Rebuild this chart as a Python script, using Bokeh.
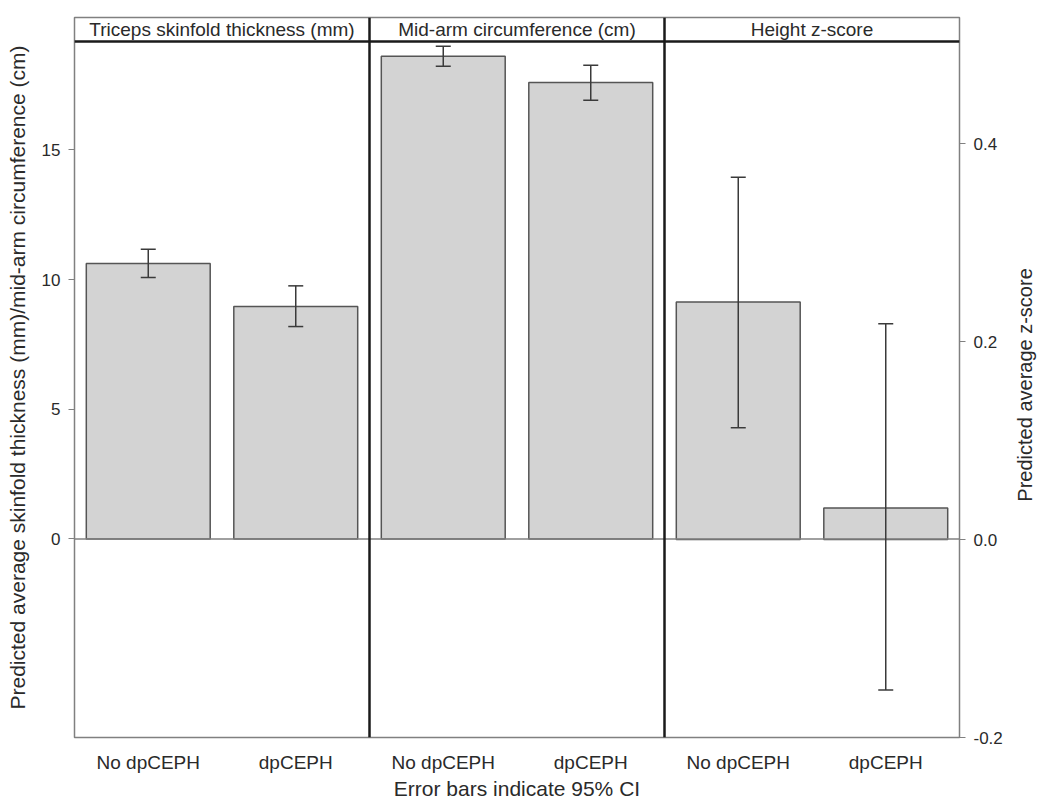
import math
from bokeh.plotting import figure
from bokeh.layouts import row
from bokeh.core.properties import value
from bokeh.models import (Range1d, LinearAxis, FixedTicker, NumeralTickFormatter,
                          ColumnDataSource, Whisker, TeeHead, Span, Label)
from bokeh.embed import file_html
from bokeh.resources import INLINE

# ---- data ----
panels = ["Triceps skinfold thickness (mm)", "Mid-arm circumference (cm)", "Height z-score"]
groups = ["No dpCEPH", "dpCEPH"]

triceps_mean = [10.62, 8.96]
triceps_lower = [10.08, 8.19]
triceps_upper = [11.17, 9.76]

midarm_mean = [18.62, 17.60]
midarm_lower = [18.23, 16.92]
midarm_upper = [19.00, 18.27]

height_mean = [0.240, 0.032]
height_lower = [0.113, -0.152]
height_upper = [0.366, 0.218]

left_ticks = [0, 5, 10, 15]
right_ticks = [-0.2, 0.0, 0.2, 0.4]

FONT = "Liberation Sans"
TXT = "#2a2a2a"
GREY = "#808080"

LEFT_RANGE = (-7.66, 20.11)
RIGHT_RANGE = (-0.2, 0.5275)
STRIP_BOTTOM = 19.18

p = figure(frame_width=885, frame_height=720, output_backend="svg", toolbar_location=None,
           x_range=Range1d(0, 6), y_range=Range1d(*LEFT_RANGE),
           min_border_left=74, min_border_top=17, min_border_right=46, min_border_bottom=55,
           y_axis_location="left")
p.extra_y_ranges = {"z": Range1d(*RIGHT_RANGE)}
p.xgrid.visible = False
p.ygrid.visible = False
p.outline_line_color = GREY
p.outline_line_width = 1.5
p.background_fill_color = "white"
p.border_fill_color = "white"

def pos(panel_idx, grp_idx):
    return panel_idx * len(groups) + grp_idx + 0.5

def whisker(src, **kw):
    return Whisker(base="x", lower="lower", upper="upper", source=src, level="overlay",
                   line_color="#3a3a3a", line_width=1.5,
                   upper_head=TeeHead(size=15, line_color="#3a3a3a", line_width=1.5),
                   lower_head=TeeHead(size=15, line_color="#3a3a3a", line_width=1.5), **kw)

# bars + whiskers for the two left-scale panels
for pi, (m, lo, hi) in enumerate([(triceps_mean, triceps_lower, triceps_upper),
                                   (midarm_mean, midarm_lower, midarm_upper)]):
    src = ColumnDataSource(dict(x=[pos(pi, g) for g in range(len(groups))], top=m, lower=lo, upper=hi))
    p.vbar(x="x", top="top", bottom=0, width=0.84, source=src,
           fill_color="#d3d3d3", line_color="#555555", line_width=1.5)
    p.add_layout(whisker(src))

# height z-score panel on right scale
hsrc = ColumnDataSource(dict(x=[pos(2, g) for g in range(len(groups))], top=height_mean,
                             lower=height_lower, upper=height_upper))
p.vbar(x="x", top="top", bottom=0, width=0.84, source=hsrc, y_range_name="z",
       fill_color="#d3d3d3", line_color="#555555", line_width=1.5)
p.add_layout(whisker(hsrc, y_range_name="z"))

# zero line
p.add_layout(Span(location=0, dimension="width", line_color=GREY, line_width=1.5))
# strip bottom line
p.add_layout(Span(location=STRIP_BOTTOM, dimension="width", line_color="#1a1a1a", line_width=2.5))
# panel dividers
for k in range(1, len(panels)):
    p.add_layout(Span(location=k * len(groups), dimension="height", line_color="#1a1a1a", line_width=2.5))

# strip titles
for i, t in enumerate(panels):
    p.add_layout(Label(x=i * len(groups) + len(groups) / 2, y=(STRIP_BOTTOM + LEFT_RANGE[1]) / 2,
                       text=t, text_align="center", text_baseline="middle",
                       text_font=FONT, text_font_size="19px", text_color=TXT))

# x axis
xa = p.xaxis[0]
xa.ticker = FixedTicker(ticks=[pos(pi, g) for pi in range(len(panels)) for g in range(len(groups))])
xa.major_label_overrides = {pos(pi, g): groups[g] for pi in range(len(panels)) for g in range(len(groups))}
xa.major_tick_in = 0
xa.major_tick_out = 0
xa.minor_tick_in = 0
xa.minor_tick_out = 0
xa.axis_line_color = None
xa.major_label_standoff = 14
xa.major_label_text_font = FONT
xa.major_label_text_font_size = "19px"
xa.major_label_text_color = TXT
xa.axis_label = "Error bars indicate 95% CI"
xa.axis_label_text_font = FONT
xa.axis_label_text_font_size = "21px"
xa.axis_label_text_font_style = "normal"
xa.axis_label_text_color = TXT
xa.axis_label_standoff = 1

# left axis
ya = p.yaxis[0]
ya.ticker = FixedTicker(ticks=left_ticks)
ya.minor_tick_in = 0
ya.minor_tick_out = 0
ya.major_tick_in = 0
ya.major_tick_out = 6
ya.major_tick_line_color = GREY
ya.axis_line_color = GREY
ya.major_label_standoff = 8
ya.major_label_text_font = FONT
ya.major_label_text_font_size = "17px"
ya.major_label_text_color = TXT
ya.axis_label = "Predicted average skinfold thickness (mm)/mid-arm circumference (cm)"
ya.axis_label_text_font = FONT
ya.axis_label_text_font_size = "21px"
ya.axis_label_text_font_style = "normal"
ya.axis_label_text_color = TXT
ya.axis_label_standoff = 10

# right axis
ra = LinearAxis(y_range_name="z", ticker=FixedTicker(ticks=right_ticks),
                formatter=NumeralTickFormatter(format="0.0"))
ra.minor_tick_in = 0
ra.minor_tick_out = 0
ra.major_tick_in = 0
ra.major_tick_out = 6
ra.major_tick_line_color = GREY
ra.axis_line_color = GREY
ra.major_label_standoff = 8
ra.major_label_text_font = FONT
ra.major_label_text_font_size = "17px"
ra.major_label_text_color = TXT
p.add_layout(ra, "right")

# right axis title (reads bottom-to-top, like the left one) in a narrow side strip
RIGHT_TITLE = "Predicted average z-score"
p2 = figure(width=32, height=790, output_backend="svg", toolbar_location=None,
            x_range=Range1d(0, 1), y_range=Range1d(0, 790), min_border=0)
p2.axis.visible = False
p2.grid.visible = False
p2.outline_line_color = None
p2.border_fill_color = "white"
p2.text(x=[0.6], y=[380], text=[RIGHT_TITLE], angle=math.pi / 2,
        text_align="center", text_baseline="middle",
        text_font=value(FONT), text_font_size="20px", text_color=TXT)

layout = row(p, p2, spacing=0)
open("out.html", "w").write(file_html(layout, INLINE))
